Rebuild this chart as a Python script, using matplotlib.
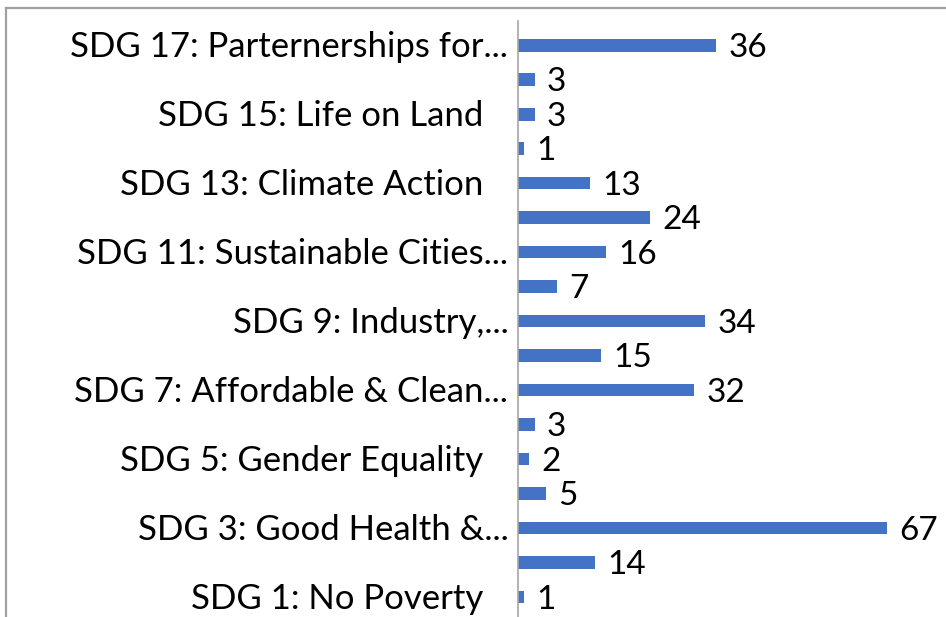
import matplotlib.pyplot as plt
from matplotlib.lines import Line2D

# SDG 1 .. SDG 17 (only every other label is shown on the axis)
labels = ["SDG 1: No Poverty", "", "SDG 3: Good Health &...", "",
          "SDG 5: Gender Equality", "", "SDG 7: Affordable & Clean...", "",
          "SDG 9: Industry,...", "", "SDG 11: Sustainable Cities...", "",
          "SDG 13: Climate Action", "", "SDG 15: Life on Land", "",
          "SDG 17: Parternerships for..."]
counts = [1, 14, 67, 5, 2, 3, 32, 15, 34, 7, 16, 24, 13, 1, 3, 3, 36]

W, H = 946, 617
fig = plt.figure(figsize=(W / 100, H / 100), dpi=100)
ax = fig.add_axes([518 / W, 0, 1 - 518 / W, (H - 21) / H])

pos = list(range(len(counts)))
ax.barh(pos, counts, height=0.37, color="#4472C4")
for y, v in zip(pos, counts):
    ax.annotate(str(v), (v, y), xytext=(9, -2), textcoords="offset points",
                va="center", ha="left", fontsize=24, family="Lato")

# category labels: truncated ones sit closer to the axis (like Excel)
for y, lab in zip(pos, labels):
    if not lab:
        continue
    off = -7 if lab.endswith("...") else -25
    ax.annotate(lab, (0, y), xycoords=("axes fraction", "data"),
                xytext=(off, -1.5), textcoords="offset points",
                va="center", ha="right", fontsize=25, family="Lato")

ax.set_yticks([])
ax.set_xticks([])
ax.set_xlim(0, 428 / 5.5)
ax.set_ylim(-0.58, 16.7)
for s in ["top", "right", "bottom"]:
    ax.spines[s].set_visible(False)
ax.spines["left"].set_color("#a6a6a6")
ax.spines["left"].set_linewidth(1.2)

# gray frame of the original chart area
fx, fy = 6 / W, 1 - 8 / H
fig.add_artist(Line2D([fx, fx], [0, fy], color="#a0a0a0", lw=1.6, transform=fig.transFigure))
fig.add_artist(Line2D([fx, 1], [fy, fy], color="#a0a0a0", lw=1.6, transform=fig.transFigure))

fig.savefig("out.png", dpi=100)
